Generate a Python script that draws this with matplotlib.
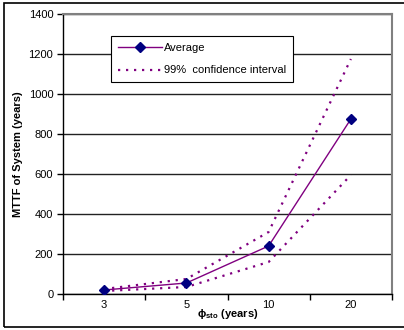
import matplotlib.pyplot as plt
from matplotlib.patches import Rectangle

plt.rcParams['font.family'] = ['Liberation Sans', 'DejaVu Sans']
plt.rcParams['mathtext.fontset'] = 'custom'
plt.rcParams['mathtext.rm'] = 'Liberation Sans:bold'

# DATA
phi_sto = ['3', '5', '10', '20']
average = [20, 55, 240, 875]
ci_upper = [25, 75, 310, 1175]
ci_lower = [15, 35, 160, 595]

# PLOTTING
fig = plt.figure(figsize=(4.04, 3.30), dpi=100)
ax = fig.add_axes([63/404, 36/330, 329/404, 280/330])

x = range(len(phi_sto))
purple = '#800080'
ax.plot(x, average, color=purple, lw=1.0, marker='D', ms=5,
        mfc='#000080', mec='#000080', label='Average', zorder=3)
ax.plot(x, ci_upper, color=purple, lw=1.6, ls=(0, (1.0, 2.6)),
        label='99%  confidence interval', zorder=2)
ax.plot(x, ci_lower, color=purple, lw=1.6, ls=(0, (1.0, 2.6)), zorder=2)

ax.set_xlim(-0.5, len(phi_sto) - 0.5)
ax.set_ylim(0, 1400)
ax.set_yticks(range(0, 1401, 200))
ax.set_xticks(list(x))
ax.set_xticklabels(phi_sto)
ax.set_xticks([i - 0.5 for i in range(len(phi_sto) + 1)], minor=True)
ax.tick_params(axis='x', which='major', length=0, pad=4, labelsize=8)
ax.tick_params(axis='x', which='minor', length=4, width=1, direction='out')
ax.tick_params(axis='y', length=4, width=1, pad=3, labelsize=8)

ax.yaxis.grid(True, color='#222222', lw=1.0)
ax.set_axisbelow(True)
for s in ['top', 'right']:
    ax.spines[s].set_color('#808080')
    ax.spines[s].set_linewidth(1.5)
for s in ['left', 'bottom']:
    ax.spines[s].set_color('black')
    ax.spines[s].set_linewidth(1.0)

ax.set_ylabel('MTTF of System (years)', fontsize=8, fontweight='bold', labelpad=4)
ax.set_xlabel('ϕ$_{\\rm sto}$ (years)', fontsize=8, fontweight='bold', labelpad=-2)

leg = ax.legend(loc='upper left', bbox_to_anchor=(111/404, 294/330),
                bbox_transform=fig.transFigure, fontsize=8, frameon=True,
                fancybox=False, framealpha=1, edgecolor='black',
                handlelength=4.0, handletextpad=0.15, borderpad=0.6,
                labelspacing=1.15, borderaxespad=0)
leg.get_frame().set_linewidth(0.8)

# figure border
fig.patches.append(Rectangle((4/404, 3/330), 1.0, 324/330, transform=fig.transFigure,
                             fill=False, edgecolor='black', lw=1.2))

plt.savefig('out.png', dpi=100)
